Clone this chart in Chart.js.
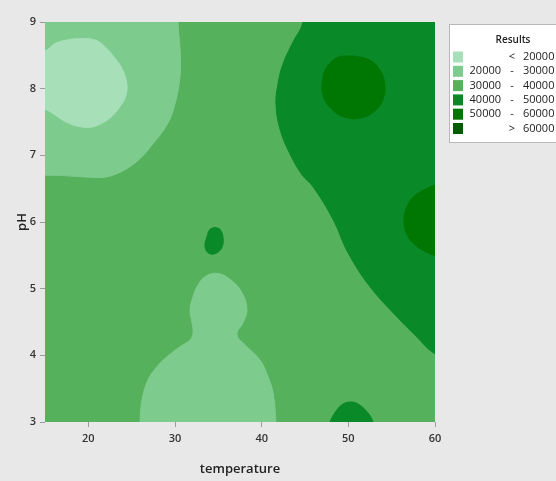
<!DOCTYPE html>
<html>
<head>
<meta charset="utf-8">
<script src="https://cdn.jsdelivr.net/npm/chart.js@4.4.1/dist/chart.umd.min.js"></script>
<style>
  html, body { margin: 0; padding: 0; background: #e8e8e8; overflow: hidden; }
  canvas { display: block; }
</style>
</head>
<body>
<canvas id="myChart" width="556" height="481"></canvas>
<script>
// axis ticks
const tempTicks = [20, 30, 40, 50, 60];
const phTicks = [3, 4, 5, 6, 7, 8, 9];

// contour levels (legend)
const levelLow = ["", "20000", "30000", "40000", "50000", ""];
const levelSign = ["<", "-", "-", "-", "-", ">"];
const levelHigh = ["20000", "30000", "40000", "50000", "60000", "60000"];
const levelColors = ["#a6dfb8", "#7dcb8d", "#56b15c", "#0a8929", "#007702", "#005a00"];

// contour boundaries, [temperature, pH]
const peakTopRight = [[50.5, 8.49], [52.3, 8.44], [53.6, 8.29], [54.2, 8.07], [54.0, 7.84], [53.0, 7.66], [51.4, 7.56], [49.6, 7.57], [48.1, 7.69], [47.1, 7.89], [47.0, 8.11], [47.5, 8.32], [48.8, 8.47], [50.5, 8.49]];
const peakRightEdge = [[61, 6.56], [60, 6.55], [58.85, 6.49], [57.46, 6.37], [56.65, 6.19], [56.42, 6.01], [56.77, 5.81], [57.69, 5.66], [58.85, 5.56], [60, 5.5], [61, 5.5]];
const lowTopLeft = [[14, 8.52], [15.2, 8.58], [16.2, 8.68], [17.5, 8.73], [19, 8.75], [20.8, 8.73], [22.0, 8.62], [23.0, 8.47], [23.9, 8.3], [24.45, 8.07], [24.3, 7.88], [23.6, 7.72], [22.6, 7.57], [21.4, 7.47], [20.2, 7.42], [18.7, 7.44], [17.4, 7.5], [16.2, 7.6], [15.2, 7.68], [14, 7.72]];
const spotMiddle = [[34.62, 5.92], [35.19, 5.89], [35.54, 5.77], [35.42, 5.62], [34.73, 5.53], [33.92, 5.53], [33.46, 5.63], [33.69, 5.78], [34.04, 5.89], [34.62, 5.92]];
const spotBottom = [[47.8, 2.9], [47.9, 3.0], [48.46, 3.14], [49.27, 3.26], [50.19, 3.3], [51.12, 3.27], [52.04, 3.17], [52.7, 3.05], [53.0, 2.9]];
const highRight = [[44.9, 9.5], [61, 9.5], [61, 4.02], [59.8, 4.04], [57.8, 4.29], [55.96, 4.53], [52.5, 5.03], [49.96, 5.54], [48.23, 6.04], [45.92, 6.53], [44.65, 6.71], [43.27, 7.02], [42.12, 7.39], [41.65, 7.77], [41.88, 8.07], [42.46, 8.37], [43.62, 8.7], [44.77, 9.0], [44.9, 9.5]];
const midTopLeft = [[14, 9.5], [30.4, 9.5], [30.35, 9.0], [30.6, 8.55], [30.55, 8.15], [29.8, 7.68], [28.9, 7.42], [27.5, 7.18], [26.2, 6.98], [24.8, 6.83], [23.2, 6.72], [21.7, 6.67], [19, 6.68], [16.5, 6.7], [14, 6.7]];
const midBottom = [[25.96, 2.9], [25.96, 3.0], [26.19, 3.33], [26.88, 3.63], [27.92, 3.83], [29.08, 3.98], [30.58, 4.13], [31.73, 4.23], [32.08, 4.34], [31.96, 4.49], [31.73, 4.68], [32.08, 4.88], [32.54, 5.03], [33.46, 5.18], [34.85, 5.23], [36.35, 5.14], [37.73, 4.94], [38.31, 4.68], [37.85, 4.49], [37.15, 4.31], [38.31, 4.13], [39.81, 3.93], [40.73, 3.68], [41.31, 3.44], [41.6, 3.1], [41.65, 2.9]];

// top-most first (chart.js draws dataset 0 last)
const regions = [
  { level: 4, pts: peakTopRight },
  { level: 4, pts: peakRightEdge },
  { level: 0, pts: lowTopLeft },
  { level: 3, pts: spotMiddle },
  { level: 3, pts: spotBottom },
  { level: 3, pts: highRight },
  { level: 1, pts: midTopLeft },
  { level: 1, pts: midBottom },
];

Chart.defaults.font.family = "'Open Sans', 'Noto Sans', sans-serif";

// base level fills the whole plot
const plotBackground = {
  id: "plotBackground",
  beforeDatasetsDraw(chart) {
    const { ctx, chartArea: a } = chart;
    ctx.save();
    ctx.fillStyle = levelColors[2];
    ctx.fillRect(a.left, a.top, a.right - a.left, a.bottom - a.top);
    ctx.restore();
  },
};

const contourLegend = {
  id: "contourLegend",
  afterDraw(chart) {
    const { ctx, chartArea: a } = chart;
    const x0 = a.right + 14, y0 = a.top + 2;
    ctx.save();
    ctx.fillStyle = "#ffffff";
    ctx.fillRect(x0, y0, 130, 118);
    ctx.strokeStyle = "#b8b8b8";
    ctx.lineWidth = 1;
    ctx.strokeRect(x0 + 0.5, y0 + 0.5, 130, 118);
    ctx.fillStyle = "#222";
    ctx.textBaseline = "middle";
    ctx.textAlign = "center";
    ctx.font = "600 10px 'Open Sans'";
    ctx.fillText("Results", x0 + 64, y0 + 16);
    ctx.font = "11px 'Open Sans'";
    levelColors.forEach((c, i) => {
      const y = y0 + 33 + i * 14.3;
      ctx.fillStyle = c;
      ctx.fillRect(x0 + 4, y - 5.5, 10, 11);
      ctx.fillStyle = "#222";
      ctx.textAlign = "right";
      ctx.fillText(levelLow[i], x0 + 52, y);
      ctx.textAlign = "center";
      ctx.fillText(levelSign[i], x0 + 63, y);
      ctx.textAlign = "left";
      ctx.fillText(levelHigh[i], x0 + 74, y);
    });
    ctx.restore();
  },
};

document.addEventListener("DOMContentLoaded", function () {
  const ctx = document.getElementById("myChart").getContext("2d");
  new Chart(ctx, {
    type: "line",
    data: {
      datasets: regions.map((r) => ({
        data: r.pts.map((p) => ({ x: p[0], y: p[1] })),
        backgroundColor: levelColors[r.level],
        borderColor: levelColors[r.level],
        borderWidth: 1,
        pointRadius: 0,
        fill: "shape",
        tension: 0.4,
      })),
    },
    options: {
      responsive: false,
      animation: false,
      events: [],
      layout: { padding: { top: 22, right: 121, left: 0, bottom: 0 } },
      plugins: { legend: { display: false }, tooltip: { enabled: false } },
      scales: {
        x: {
          type: "linear",
          min: 15,
          max: 60,
          afterBuildTicks: (s) => { s.ticks = tempTicks.map((v) => ({ value: v })); },
          afterFit: (s) => { s.height = 59; },
          grid: { drawOnChartArea: false, tickLength: 5, color: "#9c9c9c" },
          border: { display: false },
          ticks: { padding: 5, color: "#333", font: { size: 11, weight: "600" } },
          title: { display: true, text: "temperature", color: "#222", font: { size: 13, weight: "600" }, padding: { top: 0, bottom: 4 } },
        },
        y: {
          type: "linear",
          min: 3,
          max: 9,
          afterBuildTicks: (s) => { s.ticks = phTicks.map((v) => ({ value: v })); },
          afterFit: (s) => { s.width = 45; },
          grid: { drawOnChartArea: false, tickLength: 5, color: "#9c9c9c" },
          border: { display: false },
          ticks: { padding: 4, color: "#333", font: { size: 11, weight: "600" } },
          title: { display: true, text: "pH", color: "#222", font: { size: 13, weight: "600" }, padding: { top: 14, bottom: 0 } },
        },
      },
    },
    plugins: [plotBackground, contourLegend],
  });
});
</script>
</body>
</html>
